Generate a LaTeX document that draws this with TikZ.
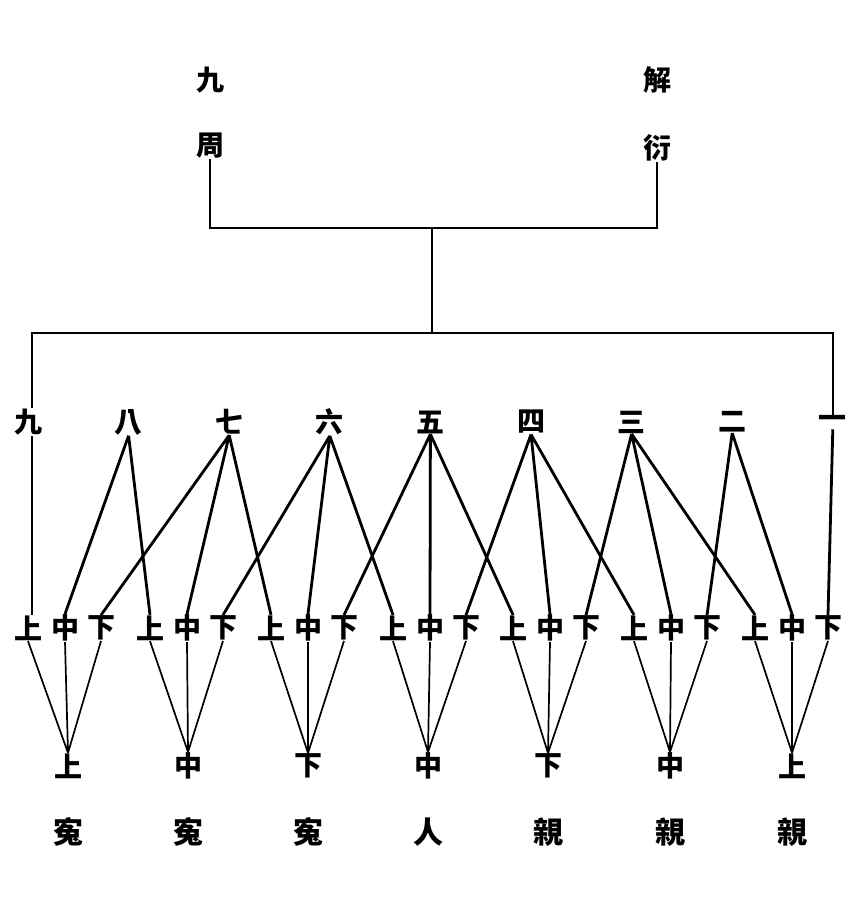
\documentclass[tikz,border=0pt]{standalone}
\usepackage{fontspec}
\newfontfamily\cjk{Noto Sans CJK TC}
\usepackage{tikz}
\usetikzlibrary{positioning}
\tikzstyle{numeral} = [font=\cjk\bfseries\fontsize{28}{28}\selectfont, inner sep=0.5pt]
\tikzstyle{grade} = [font=\cjk\bfseries\fontsize{28}{28}\selectfont, inner sep=0.5pt]
\tikzstyle{kind} = [font=\cjk\bfseries\fontsize{30}{30}\selectfont, inner sep=0.5pt]
\tikzstyle{frame} = [line width=1.6pt]
\tikzstyle{link} = [line width=2.8pt]
\tikzstyle{thinlink} = [line width=1.7pt]

\begin{document}
\begin{tikzpicture}[x=1pt, y=1pt, node distance=100.6pt]
\useasboundingbox (0,0) rectangle (864,-900);
% Top
\node (jiu) [numeral] at (210,-80) {九};
\node (zhou) [numeral, below of=jiu, node distance=66pt] {周};
\node (jie) [numeral] at (657,-80) {解};
\node (yan) [numeral, below of=jie, node distance=68pt] {衍};
\coordinate (mid) at (432,-228);
\coordinate (hub) at (432,-333);

% Numerals
\node (n9) [numeral] at (28,-422) {九};
\node (n8) [numeral, right of=n9] {八};
\node (n7) [numeral, right of=n8] {七};
\node (n6) [numeral, right of=n7] {六};
\node (n5) [numeral, right of=n6] {五};
\node (n4) [numeral, right of=n5] {四};
\node (n3) [numeral, right of=n4] {三};
\node (n2) [numeral, right of=n3] {二};
\node (n1) [numeral, right of=n2] {一};

% Grades
\node (m1) [grade] at (65,-628) {中};
\node (u1) [grade, left of=m1, node distance=37pt] {上};
\node (d1) [grade, right of=m1, node distance=36pt] {下};
\node (m2) [grade] at (187,-628) {中};
\node (u2) [grade, left of=m2, node distance=37pt] {上};
\node (d2) [grade, right of=m2, node distance=36pt] {下};
\node (m3) [grade] at (308,-628) {中};
\node (u3) [grade, left of=m3, node distance=37pt] {上};
\node (d3) [grade, right of=m3, node distance=36pt] {下};
\node (m4) [grade] at (430,-628) {中};
\node (u4) [grade, left of=m4, node distance=37pt] {上};
\node (d4) [grade, right of=m4, node distance=36pt] {下};
\node (m5) [grade] at (550,-628) {中};
\node (u5) [grade, left of=m5, node distance=37pt] {上};
\node (d5) [grade, right of=m5, node distance=36pt] {下};
\node (m6) [grade] at (671,-628) {中};
\node (u6) [grade, left of=m6, node distance=37pt] {上};
\node (d6) [grade, right of=m6, node distance=36pt] {下};
\node (m7) [grade] at (792,-628) {中};
\node (u7) [grade, left of=m7, node distance=37pt] {上};
\node (d7) [grade, right of=m7, node distance=36pt] {下};

% Bottom
\node (b1) [grade] at (68,-766) {上};
\node (b2) [grade, right of=b1, node distance=120pt] {中};
\node (b3) [grade, right of=b2, node distance=120pt] {下};
\node (b4) [grade, right of=b3, node distance=120pt] {中};
\node (b5) [grade, right of=b4, node distance=120pt] {下};
\node (b6) [grade, right of=b5, node distance=122pt] {中};
\node (b7) [grade, right of=b6, node distance=122pt] {上};
\node (r1) [kind, below of=b1, node distance=66pt] {寃};
\node (r2) [kind, below of=b2, node distance=66pt] {寃};
\node (r3) [kind, below of=b3, node distance=66pt] {寃};
\node (r4) [kind, below of=b4, node distance=66pt] {人};
\node (r5) [kind, below of=b5, node distance=66pt] {親};
\node (r6) [kind, below of=b6, node distance=66pt] {親};
\node (r7) [kind, below of=b7, node distance=66pt] {親};

% Frame
\draw[frame] (zhou.south) -- (zhou |- mid) -- (yan |- mid) -- (yan.south);
\draw[frame] (mid) -- (hub);
\draw[frame] ([xshift=4pt]n9.north) -- ([xshift=4pt]n9.north |- hub) -- (n1 |- hub) -- (n1.north);

% Links
\draw[link] ([xshift=4pt]n9.south) -- ([xshift=4pt]u1.north);
\draw[link] (n8.south) -- (m1.north) (n8.south) -- (u2.north);
\draw[link] (n7.south) -- (d1.north) (n7.south) -- (m2.north) (n7.south) -- (u3.north);
\draw[link] (n6.south) -- (d2.north) (n6.south) -- (m3.north) (n6.south) -- (u4.north);
\draw[link] (n5.south) -- (d3.north) (n5.south) -- (m4.north) (n5.south) -- (u5.north);
\draw[link] (n4.south) -- (d4.north) (n4.south) -- (m5.north) (n4.south) -- (u6.north);
\draw[link] (n3.south) -- (d5.north) (n3.south) -- (m6.north) (n3.south) -- (u7.north);
\draw[link] (n2.south) -- (d6.north) (n2.south) -- (m7.north);
\draw[link] (n1.south) -- (d7.north);

% Grades to bottom
\draw[thinlink] (u1.south) -- (b1.north) (m1.south) -- (b1.north) (d1.south) -- (b1.north);
\draw[thinlink] (u2.south) -- (b2.north) (m2.south) -- (b2.north) (d2.south) -- (b2.north);
\draw[thinlink] (u3.south) -- (b3.north) (m3.south) -- (b3.north) (d3.south) -- (b3.north);
\draw[thinlink] (u4.south) -- (b4.north) (m4.south) -- (b4.north) (d4.south) -- (b4.north);
\draw[thinlink] (u5.south) -- (b5.north) (m5.south) -- (b5.north) (d5.south) -- (b5.north);
\draw[thinlink] (u6.south) -- (b6.north) (m6.south) -- (b6.north) (d6.south) -- (b6.north);
\draw[thinlink] (u7.south) -- (b7.north) (m7.south) -- (b7.north) (d7.south) -- (b7.north);
\end{tikzpicture}
\end{document}
